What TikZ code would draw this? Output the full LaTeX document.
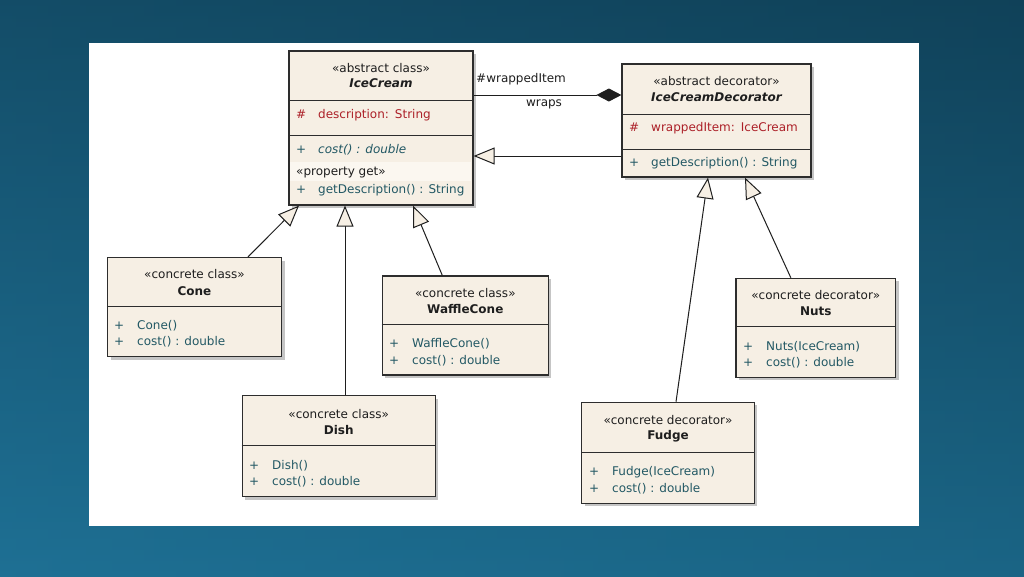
\documentclass[tikz,border=0pt]{standalone}
\usepackage{fontspec}
\setmainfont{DejaVu Sans}
\usetikzlibrary{arrows.meta,shadows}
\definecolor{bgtl}{RGB}{14,58,80}
\definecolor{bgtr}{RGB}{18,70,98}
\definecolor{bgbl}{RGB}{30,112,148}
\definecolor{bgbr}{RGB}{20,80,106}
\definecolor{boxfill}{RGB}{246,239,228}
\definecolor{bandfill}{RGB}{251,247,240}
\definecolor{boxline}{RGB}{45,45,45}
\definecolor{ink}{RGB}{30,30,30}
\definecolor{attred}{RGB}{172,32,40}
\definecolor{opteal}{RGB}{34,88,100}

\begin{document}
\begin{tikzpicture}[x=1pt,y=-1pt,font=\fontsize{12}{14}\selectfont]
\tikzstyle{cls}=[draw=boxline,line width=1.2pt,fill=boxfill,inner sep=0,
  drop shadow={shadow xshift=3pt,shadow yshift=-3pt,fill=black!50,opacity=.45}]
\tikzstyle{divline}=[draw=boxline,line width=1pt]
\tikzstyle{stereo}=[inner sep=0,text=ink]
\tikzstyle{clsname}=[inner sep=0,text=ink,font=\fontsize{12}{14}\selectfont\bfseries]
\tikzstyle{attr}=[inner sep=0,anchor=west,text=attred]
\tikzstyle{oper}=[inner sep=0,anchor=west,text=opteal]
\tikzstyle{lbl}=[inner sep=0,text=ink]
\tikzstyle{gen}=[-{Triangle[length=21pt,width=17pt,fill=boxfill]},draw=ink,line width=1pt]
\tikzstyle{comp}=[-{Diamond[length=25pt,width=13pt]},draw=ink,line width=1pt]

% background and panel
\useasboundingbox (0,0) rectangle (1024,576);
\shade[top color=bgtl,bottom color=bgbl] (0,0) rectangle (1024,576);
\shade[left color=bgbl,right color=bgbr,opacity=.35] (0,0) rectangle (1024,576);
\fill[white] (89,43) rectangle (919,526);

% IceCream
\node[cls,minimum width=184,minimum height=154] (IC) at (381,128) {};
\draw[divline] (IC.west |- 0,100) -- (IC.east |- 0,100);
\draw[divline] (IC.west |- 0,135) -- (IC.east |- 0,135);
\fill[bandfill] (290,162) rectangle (471,181);
\node[stereo] (ICst)  at (381,68)  {«abstract class»};
\node[clsname] (ICnm)  at (381,83.5) {\itshape IceCream};
\node[attr] (ICat)  at (296,115) {\makebox[22pt][l]{\#}description:\hspace{6pt}String};
\node[oper] (ICop1) at (296,150) {\makebox[22pt][l]{+}\textit{cost() : double}};
\node[stereo,anchor=west] (ICpg) at (296,172.5) {«property get»};
\node[oper] (ICop2) at (296,190) {\makebox[22pt][l]{+}getDescription() : String};

% IceCreamDecorator
\node[cls,minimum width=189,minimum height=113] (ICD) at (716.5,120.5) {};
\draw[divline] (ICD.west |- 0,114) -- (ICD.east |- 0,114);
\draw[divline] (ICD.west |- 0,149) -- (ICD.east |- 0,149);
\node[stereo] (ICDst) at (716.5,81)  {«abstract decorator»};
\node[clsname] (ICDnm) at (716.5,97)  {\itshape IceCreamDecorator};
\node[attr] (ICDat) at (629,128)   {\makebox[22pt][l]{\#}wrappedItem:\hspace{6pt}IceCream};
\node[oper] (ICDop) at (629,163)   {\makebox[22pt][l]{+}getDescription() : String};

% Cone
\node[cls,minimum width=174,minimum height=99] (Cone) at (194.5,307) {};
\draw[divline] (Cone.west |- 0,306) -- (Cone.east |- 0,306);
\node[stereo] (Conest) at (194.5,274)  {«concrete class»};
\node[clsname] (Conenm) at (194.5,291.5) {Cone};
\node[oper] (Coneop1) at (114,326) {\makebox[23pt][l]{+}Cone()};
\node[oper] (Coneop2) at (114,342) {\makebox[23pt][l]{+}cost() : double};

% WaffleCone
\node[cls,minimum width=166,minimum height=99] (Waffle) at (465.3,325.5) {};
\draw[divline] (Waffle.west |- 0,324.5) -- (Waffle.east |- 0,324.5);
\node[stereo] (Wafflest) at (465.3,293.3) {«concrete class»};
\node[clsname] (Wafflenm) at (465.3,309)   {WaffleCone};
\node[oper] (Waffleop1) at (389,344) {\makebox[23pt][l]{+}WaffleCone()};
\node[oper] (Waffleop2) at (389,361) {\makebox[23pt][l]{+}cost() : double};

% Dish
\node[cls,minimum width=193,minimum height=101] (Dish) at (338.7,446.2) {};
\draw[divline] (Dish.west |- 0,445.7) -- (Dish.east |- 0,445.7);
\node[stereo] (Dishst) at (338.7,414) {«concrete class»};
\node[clsname] (Dishnm) at (338.7,430) {Dish};
\node[oper] (Dishop1) at (249,466) {\makebox[23pt][l]{+}Dish()};
\node[oper] (Dishop2) at (249,482) {\makebox[23pt][l]{+}cost() : double};

% Fudge
\node[cls,minimum width=172.6,minimum height=101] (Fudge) at (668,452.8) {};
\draw[divline] (Fudge.west |- 0,452.3) -- (Fudge.east |- 0,452.3);
\node[stereo] (Fudgest) at (668,420)   {«concrete decorator»};
\node[clsname] (Fudgenm) at (668,436.7) {Fudge};
\node[oper] (Fudgeop1) at (589,472) {\makebox[23pt][l]{+}Fudge(IceCream)};
\node[oper] (Fudgeop2) at (589,489) {\makebox[23pt][l]{+}cost() : double};

% Nuts
\node[cls,minimum width=159.7,minimum height=99] (Nuts) at (815.8,327.8) {};
\draw[divline] (Nuts.west |- 0,326.7) -- (Nuts.east |- 0,326.7);
\node[stereo] (Nutsst) at (815.8,295)   {«concrete decorator»};
\node[clsname] (Nutsnm) at (815.8,311.7) {Nuts};
\node[oper] (Nutsop1) at (743,347) {\makebox[23pt][l]{+}Nuts(IceCream)};
\node[oper] (Nutsop2) at (743,363) {\makebox[23pt][l]{+}cost() : double};

% associations
\draw[comp] ([yshift=33pt]IC.east) -- ([yshift=25.5pt]ICD.west);
\node[lbl,anchor=west] (wrapRole) at (476,79) {\#wrappedItem};
\node[lbl] (wrapName) at (544,104) {wraps};
\draw[gen] ([yshift=-35.5pt]ICD.west) -- ([yshift=-28pt]IC.east);
\draw[gen] ([xshift=53.5pt]Cone.north) -- ([xshift=-82pt]IC.south);
\draw[gen] ([xshift=6.3pt]Dish.north) -- ([xshift=-36pt]IC.south);
\draw[gen] ([xshift=-23pt]Waffle.north) -- ([xshift=32pt]IC.south);
\draw[gen] ([xshift=8pt]Fudge.north) -- ([xshift=-8.5pt]ICD.south);
\draw[gen] ([xshift=-25pt]Nuts.north) -- ([xshift=28.5pt]ICD.south);
\end{tikzpicture}
\end{document}
